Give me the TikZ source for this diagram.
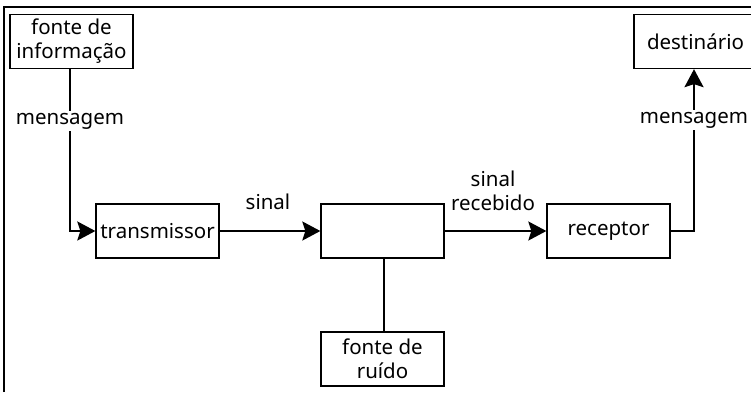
\documentclass[tikz,border=0pt]{standalone}
\usepackage{fontspec}
\setmainfont{Noto Sans}
\usetikzlibrary{arrows.meta}
\tikzset{
  box/.style={draw, line width=1.3pt, minimum width=123pt, minimum height=54pt, inner sep=0pt, align=center, font=\fontsize{20.5}{24}\selectfont},
  conn/.style={line width=2pt},
  arr/.style={conn, -{Stealth[length=18pt,width=19pt,inset=3pt]}},
  lbl/.style={fill=white, inner sep=2pt, align=center, font=\fontsize{20.5}{24}\selectfont}
}
\begin{document}
\begin{tikzpicture}[x=1pt,y=-1pt]
\useasboundingbox (0,0) rectangle (751,392);
\draw[line width=1.3pt] (4,392) -- (4,7) -- (751,7);
\begin{scope}
\clip (0,0) rectangle (751,392);
\node[box] (info) at (71.5,41.5) {fonte de\\informação};
\node[box] (trans) at (157.5,231) {transmissor};
\node[box] (mid) at (382.5,231) {};
\node[box] (rec) at (608.5,231) {receptor};
\node[box] (dest) at (695.5,41.5) {destinário};
\node[box] (ruido) at (382.5,359) {fonte de\\ruído};
\end{scope}
\coordinate (c1) at (70,231);
\coordinate (c2) at (694,231);
\draw[arr] (info.south -| c1) -- (c1) -- (trans.west);
\node[lbl] (m1) at (70,121) {mensagem};
\draw[arr] (trans.east) -- (mid.west);
\node[lbl] (s1) at (268,202) {sinal};
\draw[arr] (mid.east) -- (rec.west);
\node[lbl, inner sep=0pt] (s2) at (493,191) {sinal\\recebido};
\draw[arr] (rec.east) -- (c2) -- (dest.south -| c2);
\node[lbl] (m2) at (694,120) {mensagem};
\draw[line width=1.3pt] (mid.south -| 384,0) -- (ruido.north -| 384,0);
\end{tikzpicture}
\end{document}
